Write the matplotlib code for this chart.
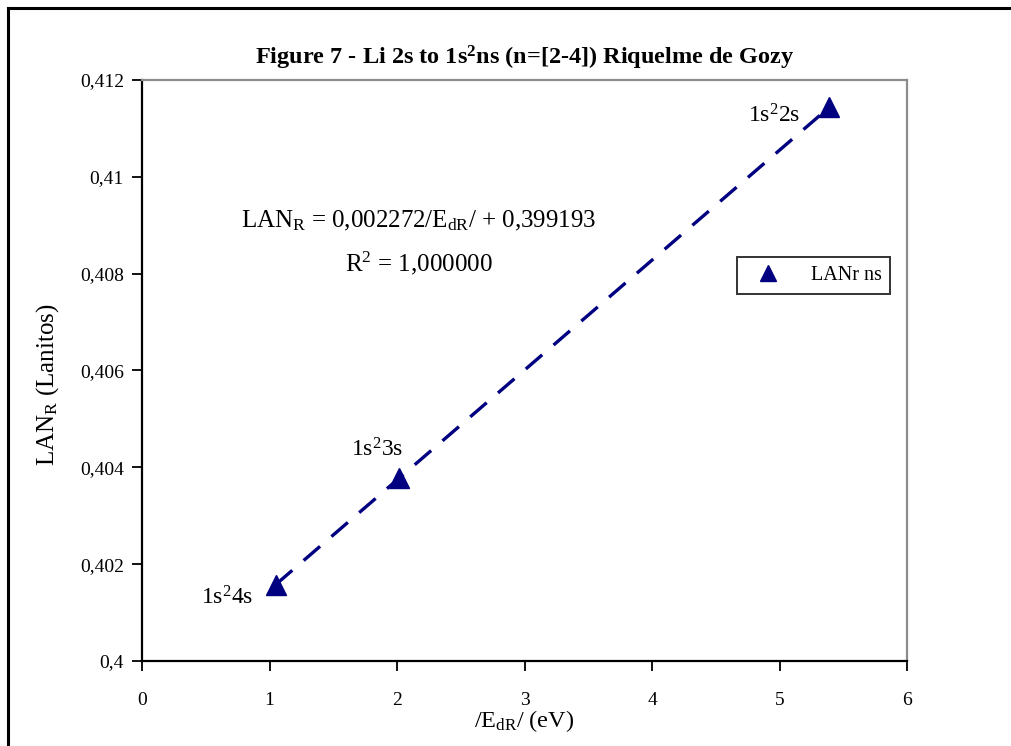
import matplotlib.pyplot as plt
import numpy as np
from matplotlib.lines import Line2D

plt.rcParams['font.family'] = ['Liberation Serif', 'DejaVu Serif']
plt.rcParams['mathtext.fontset'] = 'custom'
plt.rcParams['mathtext.rm'] = 'Liberation Serif'
plt.rcParams['mathtext.it'] = 'Liberation Serif:italic'
plt.rcParams['mathtext.bf'] = 'Liberation Serif:bold'

# data
energy = [5.392, 2.018, 1.050]          # /E_dR/ (eV)
lan = [0.41144, 0.40378, 0.40158]       # LAN_R (Lanitos)
labels = ['1s$^2$2s', '1s$^2$3s', '1s$^2$4s']
xticks = [0, 1, 2, 3, 4, 5, 6]
yticks = [0.400, 0.402, 0.404, 0.406, 0.408, 0.410, 0.412]
ytick_labels = ['0,4', '0,402', '0,404', '0,406', '0,408', '0,41', '0,412']

navy = '#000080'

fig = plt.figure(figsize=(10.11, 7.46), dpi=100)
ax = fig.add_axes([142 / 1011, 1 - 661 / 746, (907 - 142) / 1011, (661 - 80) / 746])

# outer frame (left and top edges visible)
fig.add_artist(Line2D([7.5 / 1011, 7.5 / 1011], [0, 1 - 8 / 746], color='black', lw=2.2,
                      transform=fig.transFigure))
fig.add_artist(Line2D([7.5 / 1011, 1.0], [1 - 8 / 746, 1 - 8 / 746], color='black', lw=2.2,
                      transform=fig.transFigure))

# linear trend line over the data range
slope, intercept = np.polyfit(energy, lan, 1)
xs = np.array([min(energy), max(energy)])
ax.plot(xs, slope * xs + intercept, color=navy, lw=2.4, dashes=(6.5, 4.5), zorder=2)

ax.plot(energy, lan, linestyle='none', marker='^', markersize=15, color=navy, zorder=3,
        label='LANr ns')

ax.text(5.16, 0.41126, labels[0], ha='right', va='center', fontsize=17)
ax.text(2.047, 0.40436, labels[1], ha='right', va='center', fontsize=17)
ax.text(0.871, 0.4013, labels[2], ha='right', va='center', fontsize=17)

ax.text(2.17, 0.40908, 'LAN$_{\\rm R}$ = 0,002272/E$_{\\rm dR}$/ + 0,399193',
        ha='center', va='center', fontsize=18)
ax.text(2.17, 0.40822, 'R$^2$ = 1,000000', ha='center', va='center', fontsize=18)

ax.set_xlim(0, 6)
ax.set_ylim(0.400, 0.412)
ax.set_xticks(xticks)
ax.set_xticklabels([str(t) for t in xticks])
ax.set_yticks(yticks)
ax.set_yticklabels(ytick_labels)
ax.tick_params(axis='both', direction='out', length=7, width=1.3, labelsize=14, pad=6)
ax.tick_params(axis='x', pad=15)

for side in ['left', 'bottom']:
    ax.spines[side].set_color('black')
    ax.spines[side].set_linewidth(1.6)
for side in ['top', 'right']:
    ax.spines[side].set_color('#8c8c8c')
    ax.spines[side].set_linewidth(1.6)

ax.set_xlabel('/E$_{\\rm dR}$/ (eV)', fontsize=17.5, labelpad=0)
ax.set_ylabel('LAN$_{\\rm R}$ (Lanitos)', fontsize=18)
ax.yaxis.set_label_coords(-0.106, 0.475)
ax.set_title('Figure 7 - Li 2s to 1s$^{\\bf 2}$ns (n=[2-4]) Riquelme de Gozy',
             fontsize=17.5, fontweight='bold', pad=11)

leg = ax.legend(loc='upper left', bbox_to_anchor=((737 - 142) / 765, 1 - (257 - 80) / 581),
                borderaxespad=0, fontsize=14.5, frameon=True, fancybox=False,
                edgecolor='black', handletextpad=1.0, borderpad=0.45, handlelength=2.2,
                markerscale=0.75)
leg.get_frame().set_linewidth(1.4)

plt.savefig('out.png', dpi=100)
